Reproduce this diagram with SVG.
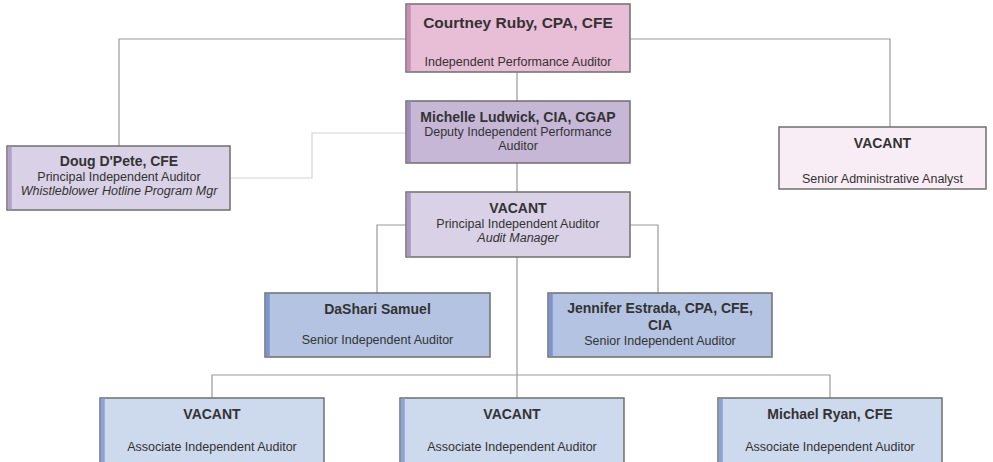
<svg xmlns="http://www.w3.org/2000/svg" width="993" height="462" viewBox="0 0 993 462">
<style>
text{font-family:"Liberation Sans",Arial,sans-serif;fill:#333;text-anchor:middle}
.n{font-weight:bold;font-size:14px}
.t{font-size:12.5px}
.i{font-size:12.5px;font-style:italic}
.box{stroke:#6f6f6f;stroke-width:1.5}
.ln{fill:none;stroke:#999;stroke-width:1.2}
.dl{fill:none;stroke:#d4d4d4;stroke-width:1.2}
</style>
<rect width="993" height="462" fill="#fff"/>
<g id="connectors">
<polyline class="ln" points="119,146 119,39 406,39"/>
<polyline class="ln" points="630,39 890,39 890,127"/>
<line class="ln" x1="517" y1="72" x2="517" y2="101"/>
<line class="ln" x1="517" y1="163" x2="517" y2="192"/>
<polyline class="dl" points="230,178 312,178 312,133 406,133"/>
<polyline class="ln" points="406,225 377,225 377,293"/>
<polyline class="ln" points="630,225 658,225 658,293"/>
<line class="ln" x1="517" y1="257" x2="517" y2="398"/>
<polyline class="ln" points="212,398 212,375 830,375 830,398"/>
</g>
<g id="courtney">
<rect class="box" x="406" y="4" width="224" height="68" fill="#e8bdd6"/>
<rect x="406.75" y="4.75" width="4" height="66.5" fill="#c98db2"/>
<text class="n" x="518" y="28" style="font-size:15.5px">Courtney Ruby, CPA, CFE</text>
<text class="t" x="518" y="66">Independent Performance Auditor</text>
</g>
<g id="michelle">
<rect class="box" x="406" y="101" width="224" height="62" fill="#c6b7d6"/>
<rect x="406.75" y="101.75" width="4" height="60.5" fill="#9d8bb8"/>
<text class="n" x="518" y="122">Michelle Ludwick, CIA, CGAP</text>
<text class="t" x="518" y="136">Deputy Independent Performance</text>
<text class="t" x="518" y="150">Auditor</text>
</g>
<g id="doug">
<rect class="box" x="7" y="146" width="223" height="64" fill="#d9d1e5"/>
<rect x="7.75" y="146.75" width="4" height="62.5" fill="#b3a3cb"/>
<text class="n" x="119" y="166">Doug D'Pete, CFE</text>
<text class="t" x="119" y="181">Principal Independent Auditor</text>
<text class="i" x="119" y="195">Whistleblower Hotline Program Mgr</text>
</g>
<g id="admin">
<rect class="box" x="779" y="127" width="207" height="62" fill="#f9edf5"/>
<text class="n" x="882.5" y="148">VACANT</text>
<text class="t" x="882.5" y="183">Senior Administrative Analyst</text>
</g>
<g id="auditmanager">
<rect class="box" x="406" y="192" width="224" height="65" fill="#d9d1e5"/>
<rect x="406.75" y="192.75" width="4" height="63.5" fill="#a999c2"/>
<text class="n" x="518" y="213">VACANT</text>
<text class="t" x="518" y="228">Principal Independent Auditor</text>
<text class="i" x="518" y="242">Audit Manager</text>
</g>
<g id="dashari">
<rect class="box" x="265" y="293" width="225" height="64" fill="#b3c3e1"/>
<rect x="265.75" y="293.75" width="4" height="62.5" fill="#7c95cc"/>
<text class="n" x="377.5" y="314">DaShari Samuel</text>
<text class="t" x="377.5" y="344">Senior Independent Auditor</text>
</g>
<g id="jennifer">
<rect class="box" x="548" y="293" width="224" height="64" fill="#b3c3e1"/>
<rect x="548.75" y="293.75" width="4" height="62.5" fill="#7c95cc"/>
<text class="n" x="660" y="313">Jennifer Estrada, CPA, CFE,</text>
<text class="n" x="660" y="330">CIA</text>
<text class="t" x="660" y="345">Senior Independent Auditor</text>
</g>
<g id="assoc1">
<rect class="box" x="100" y="398" width="224" height="68" fill="#cdd9ec"/>
<rect x="100.75" y="398.75" width="4" height="66" fill="#8ba3d5"/>
<text class="n" x="212" y="419">VACANT</text>
<text class="t" x="212" y="451">Associate Independent Auditor</text>
</g>
<g id="assoc2">
<rect class="box" x="400" y="398" width="224" height="68" fill="#cdd9ec"/>
<rect x="400.75" y="398.75" width="4" height="66" fill="#8ba3d5"/>
<text class="n" x="512" y="419">VACANT</text>
<text class="t" x="512" y="451">Associate Independent Auditor</text>
</g>
<g id="michaelryan">
<rect class="box" x="718" y="398" width="224" height="68" fill="#cdd9ec"/>
<rect x="718.75" y="398.75" width="4" height="66" fill="#8ba3d5"/>
<text class="n" x="830" y="419">Michael Ryan, CFE</text>
<text class="t" x="830" y="451">Associate Independent Auditor</text>
</g>
</svg>
